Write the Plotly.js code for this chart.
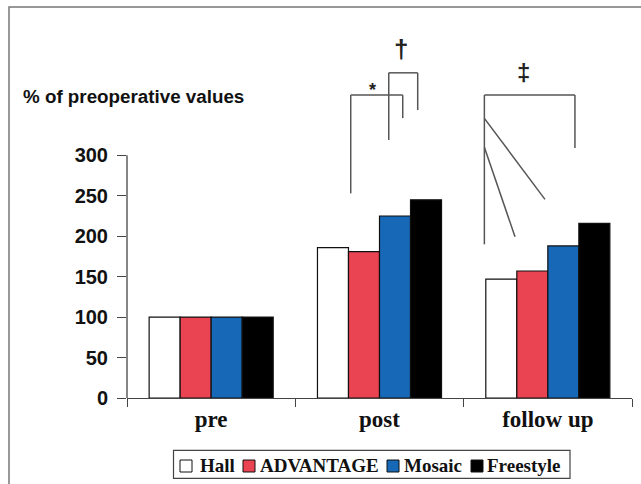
<!DOCTYPE html>
<html><head><meta charset="utf-8">
<script src="https://cdn.plot.ly/plotly-3.0.1.min.js"></script>
<style>body{margin:0;background:#fff}#chart{width:641px;height:484px}</style>
</head><body><div id="chart"></div>
<script>
const categories = ["pre", "post", "follow up"];
const seriesNames = ["Hall", "ADVANTAGE", "Mosaic", "Freestyle"];
const hall = [100, 186, 147];
const advantage = [100, 181, 157];
const mosaic = [100, 225, 188];
const freestyle = [100, 245, 216];
const yTicks = [0, 50, 100, 150, 200, 250, 300];
const colors = ["#ffffff", "#ea4352", "#1768b6", "#000000"];

const W = 641, H = 484, M = {l: 127, r: 9, t: 34, b: 86};
const PW = W - M.l - M.r, PH = H - M.t - M.b;
const px2x = px => (px - M.l) / PW;          // pixel -> paper x
const py2y = py => (H - M.b - py) / PH;      // pixel -> paper y

const values = [hall, advantage, mosaic, freestyle];
const traces = seriesNames.map((n, i) => ({
  type: "bar", name: n, x: categories, y: values[i],
  marker: {color: colors[i], line: {color: "#111", width: 1.2}},
  hoverinfo: "skip", showlegend: false
}));

const gray = "#555";
function seg(x0, y0, x1, y1) {
  return {type: "line", xref: "x", yref: "y", x0, y0, x1, y1,
          line: {color: gray, width: 1.5}, layer: "above"};
}
const shapes = [
  {type: "line", xref: "paper", yref: "y", x0: 0, x1: 0, y0: 0, y1: 300, line: {color: "#444", width: 1.3}},
  {type: "rect", xref: "paper", yref: "paper", x0: px2x(9), y0: py2y(520), x1: px2x(660), y1: py2y(7),
   line: {color: "#777", width: 1.5}, fillcolor: "rgba(0,0,0,0)"},
  seg(0.829, 253, 0.829, 374.5), seg(0.829, 374.5, 1.138, 374.5), seg(1.138, 374.5, 1.138, 346),
  seg(1.055, 319, 1.055, 402), seg(1.055, 402, 1.227, 402), seg(1.227, 402, 1.227, 356),
  seg(1.623, 190, 1.623, 374.5), seg(1.623, 374.5, 2.161, 374.5), seg(2.161, 374.5, 2.161, 309),
  seg(1.623, 345.7, 1.983, 245.6), seg(1.623, 309.9, 1.805, 199.4),
  {type: "rect", xref: "paper", yref: "paper", x0: px2x(173.5), x1: px2x(570), y0: py2y(478.3), y1: py2y(450.3),
   line: {color: "#444", width: 1.2}, fillcolor: "#fff"}
];

const legSquareX = [180, 243, 387, 471];
const legTextX = [198, 257.5, 401.5, 485];
const annotations = [
  {xref: "paper", yref: "paper", x: px2x(21), y: py2y(96.7), xanchor: "left", yanchor: "middle",
   text: "% of preoperative values", showarrow: false,
   font: {family: "Liberation Sans, Arial", size: 18.8, color: "#111", weight: "bold"}},
  {xref: "x", yref: "y", x: 0.96, y: 381, text: "*", showarrow: false,
   font: {family: "Liberation Sans, Arial", size: 18, color: "#222", weight: "bold"}},
  {xref: "x", yref: "y", x: 1.128, y: 431, text: "†", showarrow: false,
   font: {family: "Liberation Sans, Arial", size: 26, color: "#222", weight: "bold"}},
  {xref: "x", yref: "y", x: 1.853, y: 403, text: "‡", showarrow: false,
   font: {family: "Liberation Sans, Arial", size: 24, color: "#222", weight: "bold"}}
];
seriesNames.forEach((n, i) => {
  shapes.push({type: "rect", xref: "paper", yref: "paper",
    x0: px2x(legSquareX[i]), x1: px2x(legSquareX[i] + 12), y0: py2y(472), y1: py2y(460),
    line: {color: "#111", width: 1}, fillcolor: colors[i]});
  annotations.push({xref: "paper", yref: "paper", x: px2x(legTextX[i]), y: py2y(465.5),
    xanchor: "left", yanchor: "middle", text: n, showarrow: false,
    font: {family: "Liberation Serif, Times New Roman", size: 19, color: "#111", weight: "bold"}});
});

const layout = {
  width: W, height: H,
  margin: {l: M.l, r: M.r, t: M.t, b: M.b, autoexpand: false},
  paper_bgcolor: "#ffffff", plot_bgcolor: "#ffffff",
  barmode: "group", bargap: 0.263, bargroupgap: 0,
  showlegend: false,
  xaxis: {type: "category", range: [-0.5, 2.5], showline: true, linecolor: "#444", linewidth: 1.3,
          ticks: "outside", tickson: "boundaries", ticklen: 8, tickcolor: "#444",
          showgrid: false, zeroline: false, fixedrange: true, automargin: false,
          tickfont: {family: "Liberation Serif, Times New Roman", size: 23, color: "#111", weight: "bold"}},
  yaxis: {range: [0, 450], tickvals: yTicks, ticktext: yTicks.map(String), showline: false,
          ticks: "outside", ticklen: 9, tickcolor: "#444", showgrid: false, zeroline: false,
          ticklabelstandoff: 5, fixedrange: true, automargin: false,
          tickfont: {family: "Liberation Sans, Arial", size: 20, color: "#111", weight: "bold"}},
  shapes: shapes,
  annotations: annotations
};
Plotly.newPlot("chart", traces, layout, {displayModeBar: false, staticPlot: true});
</script></body></html>
